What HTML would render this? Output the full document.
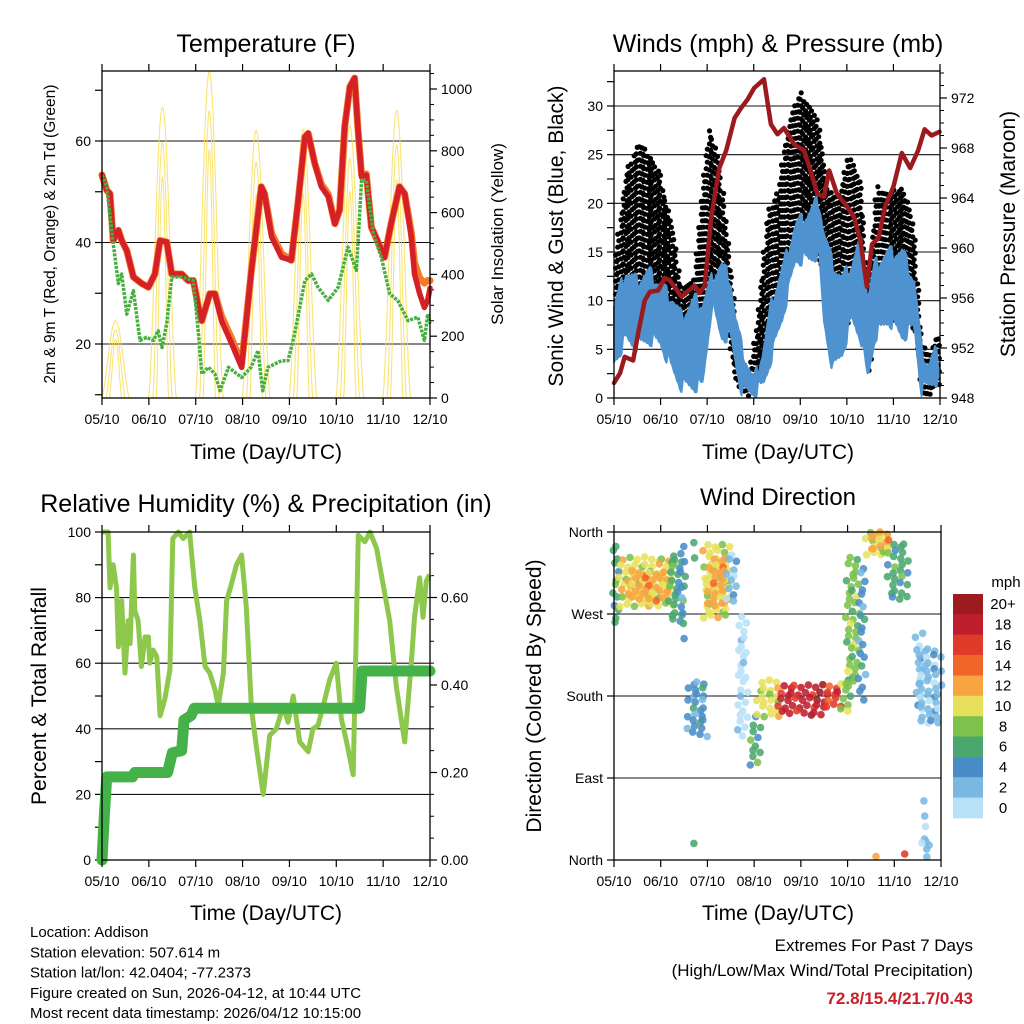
<!DOCTYPE html>
<html><head><meta charset="utf-8"><style>
html,body{margin:0;padding:0;background:#fff;}
svg{display:block;font-family:"Liberation Sans",sans-serif;}
</style></head><body>
<svg id="root" width="1024" height="1024" viewBox="0 0 1024 1024" xmlns="http://www.w3.org/2000/svg"></svg>
<script>
// ---------- Temperature panel data ----------
const tempDays=[0,0.1,0.17,0.24,0.35,0.42,0.53,0.67,0.85,0.99,1.13,1.24,1.38,1.49,1.7,1.84,1.95,2.06,2.13,2.3,2.41,2.55,2.77,2.98,3.18,3.4,3.47,3.62,3.83,4.04,4.18,4.33,4.4,4.54,4.68,4.83,4.97,5.07,5.18,5.29,5.39,5.46,5.54,5.64,5.75,5.89,6.03,6.17,6.35,6.46,6.6,6.67,6.78,6.88,6.95,7.0];
const temp2m=[53.3,50.3,49.6,40.4,42.4,40.4,38.4,33.2,31.9,31.2,33.8,40.4,40.1,33.8,33.8,32.5,32.5,27.2,24.6,29.9,29.9,24.6,20,15.4,33.8,51,49.6,41.1,37.1,36.5,47.7,60.8,61.5,55.6,51,49,43.7,46.4,62.8,70.7,72.4,62.8,52.9,53.3,43,40.1,37.1,43.7,51,49.6,41.1,33.8,29.9,27.2,28.6,31];
const temp9m=[53.3,50.3,49.6,40.4,42.4,40.4,38.4,33.2,31.9,31.2,33.8,40.4,40.1,33.8,33.8,32.5,32.5,27.2,24.6,29.9,29.9,25.5,21,16,33.8,51,49.6,41.8,37.8,36.5,47.7,60.8,61.5,55.6,51.5,49.5,43.7,46.4,62.8,70.7,72.4,62.8,53.3,53.5,43,40.1,37.1,43.7,51,49.6,42,36,33,32,32.5,32.5];
const dewDays=[0,0.1,0.24,0.35,0.42,0.53,0.67,0.81,0.95,1.1,1.2,1.28,1.38,1.49,1.7,1.95,2.06,2.13,2.27,2.41,2.52,2.7,2.98,3.18,3.33,3.43,3.54,3.83,3.97,4.11,4.33,4.47,4.61,4.83,5.04,5.25,5.43,5.54,5.64,5.79,5.96,6.14,6.31,6.53,6.74,6.88,6.95,7.0];
const dewPt=[53.3,51,39.8,31.9,33.8,25.9,30.5,20.7,21.3,20.7,22.6,19.3,24,33.2,33.2,32.5,22,14.1,15.4,14.1,10.8,15.4,13.4,15.4,18.7,10.8,15.4,16.7,16.7,22,32.5,33.8,31.2,28.6,31.2,39.1,34.5,52.3,52.3,41.7,37.1,29.9,28.6,24.6,25.3,20.7,25.9,24];
const solarNoon=[0.29,1.29,2.29,3.29,4.29,5.29,6.29];
const solarPeak=[250,940,1055,867,870,880,930];
const tempTicks=[20,40,60];
const solarTicks=[0,200,400,600,800,1000];
const dayLabels=["05/10","06/10","07/10","08/10","09/10","10/10","11/10","12/10"];
// ---------- Wind panel data ----------
const presDays=[0,0.13,0.23,0.41,0.52,0.66,0.77,0.95,1.09,1.2,1.45,1.73,1.84,1.95,2.09,2.26,2.41,2.59,2.73,2.87,3.01,3.22,3.37,3.51,3.65,3.87,4.08,4.22,4.37,4.51,4.62,4.79,4.97,5.15,5.29,5.43,5.54,5.68,5.82,6.0,6.18,6.36,6.53,6.67,6.82,6.99];
const pressure=[949.2,950,951.3,951,953.2,955.8,956.5,956.6,957.6,957.4,956.1,957,956.4,957,962.5,966.4,967.8,970.4,971.2,971.9,972.8,973.5,969.9,969.1,969.6,968.3,967.8,966.2,964.3,964.1,966.2,964.3,963.5,962.5,960.6,956.9,960.3,960.8,963.3,964.9,967.6,966.4,967.8,969.5,969,969.3];
const windDays=[0,0.25,0.5,0.75,1.0,1.25,1.45,1.75,1.9,2.1,2.3,2.5,2.6,2.75,3.0,3.2,3.4,3.6,3.9,4.2,4.4,4.5,4.7,4.9,5.1,5.3,5.45,5.6,5.9,6.2,6.45,6.6,6.75,6.9,7.0];
const windHigh=[10,13.6,12.6,13.6,12.2,10.8,9,10.8,10.2,12.9,14.3,12.9,9,5.7,2.3,5.4,10.8,13.6,18.4,19.7,21,17.7,14.3,12.9,14.3,17,10.8,14.3,15.6,15.6,12.6,5.7,4,5.4,4];
const windLow=[3,5.4,4.7,5.4,5,2.3,0.6,0.6,0.6,9,5.7,5.7,3.3,0,0,0.6,4,7.4,13.6,13.6,14.3,7.4,2.3,4,7.4,5.7,1.3,5.7,7.4,5.7,6.7,0.2,0.6,1.3,0.6];
const gustDays=[0,0.25,0.5,0.75,1.0,1.25,1.45,1.7,1.9,2.05,2.25,2.45,2.65,2.9,3.1,3.3,3.55,3.75,4.0,4.2,4.4,4.6,4.85,5.05,5.3,5.45,5.65,5.9,6.2,6.45,6.6,6.8,6.95,7.0];
const gustHigh=[13.6,22.8,26.2,25.2,22.8,17.7,11.5,11.8,21.1,28,24.5,16,5.4,2.3,8.8,19,21.8,28.6,31.4,30,28,21.1,21.1,25.2,22.2,10.8,21.8,21.1,21.8,17.7,5.4,4.8,6.7,5];
const gustLow=[5,8,8,8,8,6,2,2,6,10,10,6,1,0,2,6,9,14,18,18,14,8,6,8,8,2,8,8,8,7,0.5,0.3,1,1];
const windTicks=[0,5,10,15,20,25,30];
const presTicks=[948,952,956,960,964,968,972];
// ---------- RH panel data ----------
const rhDays=[0,0.13,0.17,0.24,0.31,0.35,0.42,0.49,0.56,0.6,0.67,0.7,0.77,0.84,0.92,0.99,1.02,1.09,1.17,1.24,1.34,1.45,1.51,1.63,1.73,1.87,1.98,2.09,2.2,2.3,2.41,2.48,2.59,2.66,2.76,2.87,2.98,3.08,3.19,3.3,3.44,3.58,3.72,3.87,3.97,4.08,4.22,4.4,4.5,4.61,4.72,4.86,5.0,5.11,5.22,5.36,5.47,5.61,5.72,5.86,6.0,6.14,6.28,6.46,6.6,6.67,6.78,6.85,6.92,6.99];
const rhVals=[100,100,83,90,83,65,79,57,73,66,93,76,73,59,68,68,60,64,62,44,49,58,98,100,98,100,83,73,59,57,52,47,57,79,84,90,93,77,46,34,20,38,40,47,42,50,36,33,40,41,47,55,60,43,36,26,99,97,100,95,84,73,53,36,60,74,86,74,85,87];
const precipDays=[0,0.05,0.1,0.65,0.7,1.4,1.5,1.7,1.75,1.9,1.97,5.5,5.55,7.0];
const precipVals=[0,0.1,0.19,0.19,0.20,0.20,0.245,0.25,0.32,0.33,0.347,0.347,0.432,0.432];
const rhTicks=[0,20,40,60,80,100];
const precipTicks=[0,0.2,0.4,0.6];
// ---------- Wind direction panel data ----------
const dirD0=[0.0,0.15,0.3,1.2,1.47,1.6,1.75,1.95,2.05,2.45,2.68,2.95,3.1,3.55,4.55,4.9,5.0,5.27,5.4,5.5,5.9,6.5,6.55,6.65,1.75,6.6,5.5,6.2];
const dirD1=[0.12,1.3,1.2,1.5,1.52,1.95,1.8,2.45,2.4,2.65,2.85,3.15,3.55,4.55,4.85,5.1,5.25,5.4,5.95,5.95,6.3,6.6,7.0,6.7,1.8,6.75,5.7,6.35];
const dirA0=[255,275,285,260,230,135,330,265,280,280,135,100,155,160,165,160,190,175,330,340,285,160,150,5,5,5,0,0];
const dirA1=[345,330,315,335,350,195,355,345,330,335,265,155,195,190,190,200,330,320,358,358,345,250,230,70,25,25,5,5];
const dirSpd=[6,10,12,6,4,4,7,10,12,2,1,6,10,19,16,8,9,4,10,12,7,2,3,2,4,3,13,17];
const spdColors=["#b8e1f7","#7ab8e3","#4a8dc6","#4aa86e","#7dc24b","#e8e05a","#f8a443","#f26528","#e03a2b","#bf1e2e","#9b1b1e"];
const spdLabels=["0","2","4","6","8","10","12","14","16","18","20+"];
const dirTicks=[0,90,180,270,360];
const dirLabels=["North","East","South","West","North"];

const NS="http://www.w3.org/2000/svg";
const root=document.getElementById('root');
function mk(tag,attrs,parent,text){const e=document.createElementNS(NS,tag);for(const k in attrs)e.setAttribute(k,attrs[k]);if(text!==undefined)e.textContent=text;(parent||root).appendChild(e);return e;}
function lerp(xs,ys,x){if(x<=xs[0])return ys[0];for(let i=1;i<xs.length;i++){if(x<=xs[i]){const t=(x-xs[i-1])/(xs[i]-xs[i-1]);return ys[i-1]+t*(ys[i]-ys[i-1]);}}return ys[ys.length-1];}
function scale(d0,d1,r0,r1){return v=>r0+(v-d0)*(r1-r0)/(d1-d0);}
function pts(xs,ys,fx,fy){return xs.map((x,i)=>fx(x).toFixed(1)+','+fy(ys[i]).toFixed(1)).join(' ');}
function jit(n,a){return (((n*7919)%13)/6-1)*a;}

function frame(g,x0,y0,x1,y1,fx){
  mk('rect',{x:x0,y:y0,width:x1-x0,height:y1-y0,fill:'none',stroke:'#000','stroke-width':1.3},g);
  for(let d=0;d<=7;d++){const x=fx(d);
    mk('line',{x1:x,y1:y1,x2:x,y2:y1+7,stroke:'#000','stroke-width':1.2},g);
    mk('line',{x1:x,y1:y0,x2:x,y2:y0-7,stroke:'#000','stroke-width':1.2},g);
    const t=mk('text',{x:x,y:y1+26,'font-size':14,'text-anchor':'middle'},g,dayLabels[d]);
    
    
  }
}
function ytick(g,x,y,side,label,grid,x0,x1){
  mk('line',{x1:x,y1:y,x2:x+(side<0?-7:7),y2:y,stroke:'#000','stroke-width':1.2},g);
  if(grid)mk('line',{x1:x0,y1:y,x2:x1,y2:y,stroke:'#111','stroke-width':1.1},g);
  if(label!==null){const t=mk('text',{x:x+(side<0?-11:11),y:y+5,'font-size':14,'text-anchor':side<0?'end':'start'},g,label);
    
    }
}
function title(g,x,y,s,size,rot){const t=mk('text',{x:x,y:y,'font-size':size,'text-anchor':'middle',transform:rot?`rotate(-90 ${x} ${y})`:''},g,s);return t;}

// ===== Panel 1: Temperature =====
{
const g=mk('g',{});


const X0=102,X1=430,Y0=71,Y1=398;
const fx=scale(0,7,X0,X1), fy=scale(20,60,344,141), fs=scale(0,1000,398,89);
tempTicks.forEach(v=>ytick(g,X0,fy(v),-1,String(v),true,X0,X1));
[10,30,50,70].forEach(v=>ytick(g,X0,fy(v),-1,null,false));
solarTicks.forEach(v=>ytick(g,X1,fs(v),1,String(v),false));
for(let v=50;v<=1050;v+=50){if(v%200)mk('line',{x1:X1,y1:fs(v),x2:X1+4,y2:fs(v),stroke:'#000'},g);}
const clip=mk('clipPath',{id:'c1'},g);
mk('rect',{x:X0,y:Y0,width:X1-X0,height:Y1-Y0},clip);
const sg=mk('g',{'clip-path':'url(#c1)'},g);
solarNoon.forEach((n,i)=>{
  [1,0.7,0.45].forEach((w,j)=>{
  const xs=[],ys=[];
  for(let k=-30;k<=30;k++){const t=n+k*0.3*w/30;const c=Math.cos(Math.PI/2*k/30);xs.push(t);ys.push(solarPeak[i]*(1-0.12*j)*Math.pow(Math.max(c,0),1.6));}
  const p=mk('polyline',{points:pts(xs,ys,fx,fs),fill:'none',stroke:'#f9dd50','stroke-width':1.1,'stroke-opacity':0.8},sg);
  
  
  });
});
const o=mk('polyline',{points:pts(tempDays,temp9m,fx,fy),fill:'none',stroke:'#f47a2a','stroke-width':7,'stroke-linejoin':'round','stroke-linecap':'round'},g);


const r=mk('polyline',{points:pts(tempDays,temp2m,fx,fy),fill:'none',stroke:'#d42026','stroke-width':5.5,'stroke-linejoin':'round','stroke-linecap':'round'},g);


const gd=mk('polyline',{points:pts(dewDays,dewPt,fx,fy),fill:'none',stroke:'#45b040','stroke-width':3.5,'stroke-dasharray':'3 1.2','stroke-linejoin':'round'},g);


frame(g,X0,Y0,X1,Y1,fx);
const t1=title(g,266,52,'Temperature (F)',25);


const t2=title(g,266,459,'Time (Day/UTC)',21);


const t3=title(g,55,234,'2m & 9m T (Red, Orange) & 2m Td (Green)',15.5,true);


const t4=title(g,503,234,'Solar Insolation (Yellow)',17,true);


}

// ===== Panel 2: Winds =====
{
const g=mk('g',{});


const X0=614,X1=940,Y0=71,Y1=398;
const fx=scale(0,7,X0,X1), fy=scale(0,30,398,106), fp=scale(948,972,398,98);
windTicks.forEach(v=>ytick(g,X0,fy(v),-1,String(v),v>0,X0,X1));
for(let v=2.5;v<33;v+=5)ytick(g,X0,fy(v),-1,null,false);
presTicks.forEach(v=>ytick(g,X1,fp(v),1,String(v),false));
for(let v=949;v<=974;v++){if(v%4)mk('line',{x1:X1,y1:fp(v),x2:X1+4,y2:fp(v),stroke:'#000'},g);}
const gg=mk('g',{fill:'#000'},g);


let k=0;
for(let px=X0+2;px<X1-1;px+=2.6){
  const d=(px-X0)/(X1-X0)*7;
  const hi=fy(lerp(gustDays,gustHigh,d)), lo=fy(lerp(gustDays,gustLow,d));
  k++;
  for(let py=hi+((k*5)%6);py<=lo;py+=6.5){
    mk('circle',{cx:(px+jit(k+py,1)).toFixed(1),cy:py.toFixed(1),r:2.6},gg);
  }
}
const top=[],bot=[];
for(let px=X0;px<=X1;px+=1.5){const d=(px-X0)/(X1-X0)*7;const j=((Math.round(px*3))%5)*0.35;top.push(px.toFixed(1)+','+fy(lerp(windDays,windHigh,d)-j).toFixed(1));bot.unshift(px.toFixed(1)+','+fy(lerp(windDays,windLow,d)+j).toFixed(1));}
const wb=mk('polygon',{points:top.concat(bot).join(' '),fill:'#4e93cf',stroke:'#4e93cf','stroke-width':2,'stroke-linejoin':'round'},g);


const pl=mk('polyline',{points:pts(presDays,pressure,fx,fp),fill:'none',stroke:'#9a1a1e','stroke-width':4.5,'stroke-linejoin':'round','stroke-linecap':'round'},g);


frame(g,X0,Y0,X1,Y1,fx);
const t1=title(g,778,52,'Winds (mph) & Pressure (mb)',25);


const t2=title(g,778,459,'Time (Day/UTC)',21);


const t3=title(g,563,236,'Sonic Wind & Gust (Blue, Black)',21,true);


const t4=title(g,1015,234,'Station Pressure (Maroon)',21,true);


}

// ===== Panel 3: RH & Precip =====
{
const g=mk('g',{});


const X0=102,X1=430,Y0=532,Y1=860;
const fx=scale(0,7,X0,X1), fy=scale(0,100,860,532), fr=scale(0,0.2,860,772.5);
rhTicks.forEach(v=>ytick(g,X0,fy(v),-1,String(v),v>0&&v<100,X0,X1));
for(let v=10;v<100;v+=20)ytick(g,X0,fy(v),-1,null,false);
precipTicks.forEach(v=>ytick(g,X1,fr(v),1,v.toFixed(2),false));
for(let v=0.05;v<0.75;v+=0.05){if(Math.abs(v*5-Math.round(v*5))>0.01)mk('line',{x1:X1,y1:fr(v),x2:X1+4,y2:fr(v),stroke:'#000'},g);}
const rl=mk('polyline',{points:pts(rhDays,rhVals,fx,fy),fill:'none',stroke:'#8dc84c','stroke-width':5,'stroke-linejoin':'round'},g);


const pl=mk('polyline',{points:pts(precipDays,precipVals,fx,fr),fill:'none',stroke:'#45b249','stroke-width':11,'stroke-linejoin':'round','stroke-linecap':'round'},g);


frame(g,X0,Y0,X1,Y1,fx);
const t1=title(g,266,512,'Relative Humidity (%) & Precipitation (in)',25);


const t2=title(g,266,920,'Time (Day/UTC)',21);


const t3=title(g,46,696,'Percent & Total Rainfall',21,true);


}

// ===== Panel 4: Wind direction =====
{
const g=mk('g',{});


const X0=614,X1=941,Y0=532,Y1=860;
const fx=scale(0,7,X0,X1), fy=scale(0,360,860,532);
dirTicks.forEach((v,i)=>ytick(g,X0,fy(v),-1,dirLabels[i],v>0&&v<360,X0,X1));
const dg=mk('g',{'fill-opacity':0.88},g);


let n=0;
dirD0.forEach((d0,i)=>{
  const x0=fx(d0),x1=fx(dirD1[i]),ya=fy(dirA1[i]),yb=fy(dirA0[i]);
  const ci=Math.min(10,Math.floor(dirSpd[i]/2));
  const sp=6.5;
  let r=0;
  for(let y=ya;y<=yb;y+=sp){r++;
    for(let x=x0+((r%2)*sp/2);x<=x1+0.1;x+=sp){n++;
      const alt=(n%5===0&&ci>0)?ci-1:((n%7===0&&ci<10)?ci+1:ci);
      mk('circle',{cx:(x+jit(n,2.2)).toFixed(1),cy:(y+jit(n*3+1,2.2)).toFixed(1),r:3.8,fill:spdColors[alt]},dg);
    }}
});
frame(g,X0,Y0,X1,Y1,fx);
const cb=mk('g',{},g);


const bh=(818-594)/11;
spdColors.slice().reverse().forEach((c,i)=>{
  mk('rect',{x:953,y:(594+i*bh).toFixed(1),width:30,height:(bh+0.3).toFixed(1),fill:c},cb);
  mk('text',{x:1003,y:(594+i*bh+bh/2+5).toFixed(1),'font-size':15,'text-anchor':'middle'},cb,spdLabels[10-i]);
});
mk('text',{x:1006,y:587,'font-size':15,'text-anchor':'middle'},cb,'mph');
const t1=title(g,778,505,'Wind Direction',24);


const t2=title(g,778,920,'Time (Day/UTC)',21);


const t3=title(g,541,696,'Direction (Colored By Speed)',21,true);


}

// ===== Footer =====
{
const g=mk('g',{'font-size':15});


["Location: Addison","Station elevation: 507.614 m","Station lat/lon: 42.0404; -77.2373","Figure created on Sun, 2026-04-12, at 10:44 UTC","Most recent data timestamp: 2026/04/12 10:15:00"].forEach((s,i)=>mk('text',{x:30,y:937+i*20.3},g,s));
const e=mk('g',{'font-size':17,'text-anchor':'end'});


mk('text',{x:973,y:951},e,'Extremes For Past 7 Days');
mk('text',{x:973,y:976},e,'(High/Low/Max Wind/Total Precipitation)');
mk('text',{x:973,y:1004,fill:'#c8202a','font-weight':'bold'},e,'72.8/15.4/21.7/0.43');
}
</script>
</body></html>
